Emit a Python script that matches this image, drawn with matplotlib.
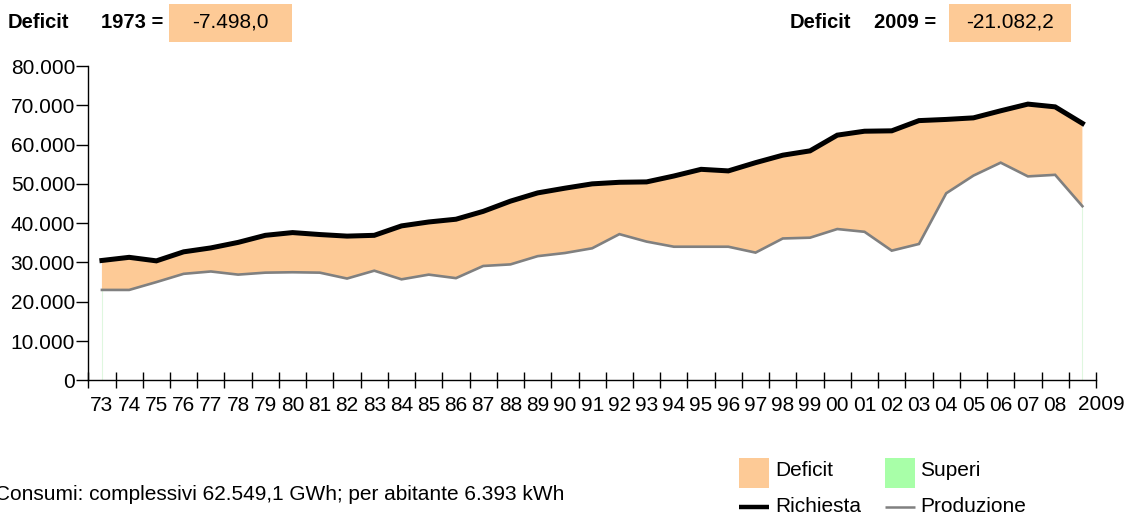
import numpy as np
import matplotlib
matplotlib.use("Agg")
import matplotlib.pyplot as plt
from matplotlib.patches import Rectangle
from matplotlib.lines import Line2D
from matplotlib.ticker import FuncFormatter, FixedLocator
from matplotlib.transforms import blended_transform_factory

# ---------------- data ----------------
years = list(range(1973, 2010))
year_labels = ['73', '74', '75', '76', '77', '78', '79', '80', '81', '82', '83', '84',
               '85', '86', '87', '88', '89', '90', '91', '92', '93', '94', '95', '96',
               '97', '98', '99', '00', '01', '02', '03', '04', '05', '06', '07', '08', '2009']
richiesta = [30500, 31300, 30400, 32700, 33700, 35100, 36900, 37600, 37100, 36700,
             36900, 39300, 40300, 41000, 43000, 45600, 47700, 48900, 50000, 50400,
             50500, 52000, 53700, 53300, 55400, 57300, 58400, 62400, 63400, 63500,
             66100, 66400, 66800, 68600, 70300, 69600, 65400]
produzione = [23002, 23000, 25000, 27100, 27700, 26900, 27400, 27500, 27400, 25900,
              27900, 25700, 26900, 26000, 29100, 29500, 31600, 32400, 33600, 37200,
              35300, 34000, 34000, 34000, 32500, 36100, 36300, 38500, 37800, 33000,
              34700, 47600, 52100, 55400, 51900, 52300, 44318]
yticks = [0, 10000, 20000, 30000, 40000, 50000, 60000, 70000, 80000]
deficit_first = "-7.498,0"
deficit_last = "-21.082,2"
legend_labels = ["Deficit", "Superi", "Richiesta", "Produzione"]
footer = "Consumi: complessivi 62.549,1 GWh; per abitante 6.393 kWh"

PEACH = "#FDCA96"
GREEN = "#A8FFA8"
FONT = "Liberation Sans"

plt.rcParams['font.family'] = [FONT, 'DejaVu Sans']

W, H = 1128, 515
fig = plt.figure(figsize=(W / 100, H / 100), dpi=100)

def fx(px):
    return px / W

def fy(py):
    return 1 - py / H

ax = fig.add_axes([fx(88.3), fy(380.3), fx(1096) - fx(88.3), fy(66) - fy(380.3)])

x = np.arange(len(years))
r = np.array(richiesta, dtype=float)
p = np.array(produzione, dtype=float)

ax.fill_between(x, p, r, where=r >= p, interpolate=True, facecolor=PEACH, edgecolor='none', zorder=1)
ax.fill_between(x, r, p, where=p >= r, interpolate=True, facecolor=GREEN, edgecolor='none', zorder=1)
ax.vlines([x[0], x[-1]], 0, [p[0], p[-1]], color='#dff7df', lw=0.8, zorder=1)
ax.plot(x, p, color='#808080', lw=1.9, zorder=2, solid_joinstyle='miter')
ax.plot(x, r, color='black', lw=3.6, zorder=3, solid_joinstyle='miter')

ax.set_xlim(-0.5, len(years) - 0.5)
ax.set_ylim(0, 80000)

for s in ['top', 'right']:
    ax.spines[s].set_visible(False)
for s in ['left', 'bottom']:
    ax.spines[s].set_linewidth(1.0)
    ax.spines[s].set_color('black')

ax.set_yticks(yticks)
ax.yaxis.set_major_formatter(FuncFormatter(lambda v, pos: f"{int(v):,}".replace(',', '.')))
ax.tick_params(axis='y', direction='out', length=9, width=1.0, pad=0.5,
               labelsize=15, colors='black')

# x: tick marks on bin edges, labels at bin centers
ax.xaxis.set_major_locator(FixedLocator(np.arange(len(years) + 1) - 0.5))
ax.xaxis.set_major_formatter(FuncFormatter(lambda v, pos: ""))
ax.xaxis.set_minor_locator(FixedLocator(list(x[:-1])))
ax.xaxis.set_minor_formatter(FuncFormatter(lambda v, pos: year_labels[pos]))
ax.tick_params(axis='x', which='major', direction='inout', length=12, width=1.0)
ax.tick_params(axis='x', which='minor', length=0, pad=11, labelsize=15)

# last label sits just right of the final bin edge
ax.text(x[-1] + 0.68, fy(405), year_labels[-1], fontsize=15, ha='center', va='center',
        transform=blended_transform_factory(ax.transData, fig.transFigure), clip_on=False)

# ---------------- header ----------------
hy = fy(22)
fig.text(fx(8), hy, "Deficit", fontsize=14.5, fontweight='bold', va='center', ha='left')
fig.text(fx(101), hy, f"{years[0]} =", fontsize=14.5, fontweight='bold', va='center', ha='left')
fig.patches.append(Rectangle((fx(169), fy(42)), fx(292) - fx(169), fy(4) - fy(42),
                             transform=fig.transFigure, facecolor=PEACH, edgecolor='none'))
fig.text(fx(230.5), hy, deficit_first, fontsize=15, va='center', ha='center')

fig.text(fx(790), hy, "Deficit", fontsize=14.5, fontweight='bold', va='center', ha='left')
fig.text(fx(874), hy, f"{years[-1]} =", fontsize=14.5, fontweight='bold', va='center', ha='left')
fig.patches.append(Rectangle((fx(949), fy(42)), fx(1071) - fx(949), fy(4) - fy(42),
                             transform=fig.transFigure, facecolor=PEACH, edgecolor='none'))
fig.text(fx(1010), hy, deficit_last, fontsize=15, va='center', ha='center')

# ---------------- footer ----------------
fig.text(fx(-5), fy(495), footer, fontsize=15, va='center', ha='left')

# ---------------- legend ----------------
fig.patches.append(Rectangle((fx(739), fy(488)), fx(769) - fx(739), fy(458) - fy(488),
                             transform=fig.transFigure, facecolor=PEACH, edgecolor='none'))
fig.patches.append(Rectangle((fx(885), fy(488)), fx(915) - fx(885), fy(458) - fy(488),
                             transform=fig.transFigure, facecolor=GREEN, edgecolor='none'))
fig.lines.append(Line2D([fx(739), fx(769)], [fy(507), fy(507)], transform=fig.transFigure,
                        color='black', lw=3.2, solid_capstyle='butt'))
fig.lines.append(Line2D([fx(885), fx(915)], [fy(507), fy(507)], transform=fig.transFigure,
                        color='#808080', lw=1.8, solid_capstyle='butt'))
fig.text(fx(775), fy(471), legend_labels[0], fontsize=15, va='center', ha='left')
fig.text(fx(920), fy(471), legend_labels[1], fontsize=15, va='center', ha='left')
fig.text(fx(775), fy(507), legend_labels[2], fontsize=15, va='center', ha='left')
fig.text(fx(920), fy(507), legend_labels[3], fontsize=15, va='center', ha='left')

fig.savefig("out.png", dpi=100)
